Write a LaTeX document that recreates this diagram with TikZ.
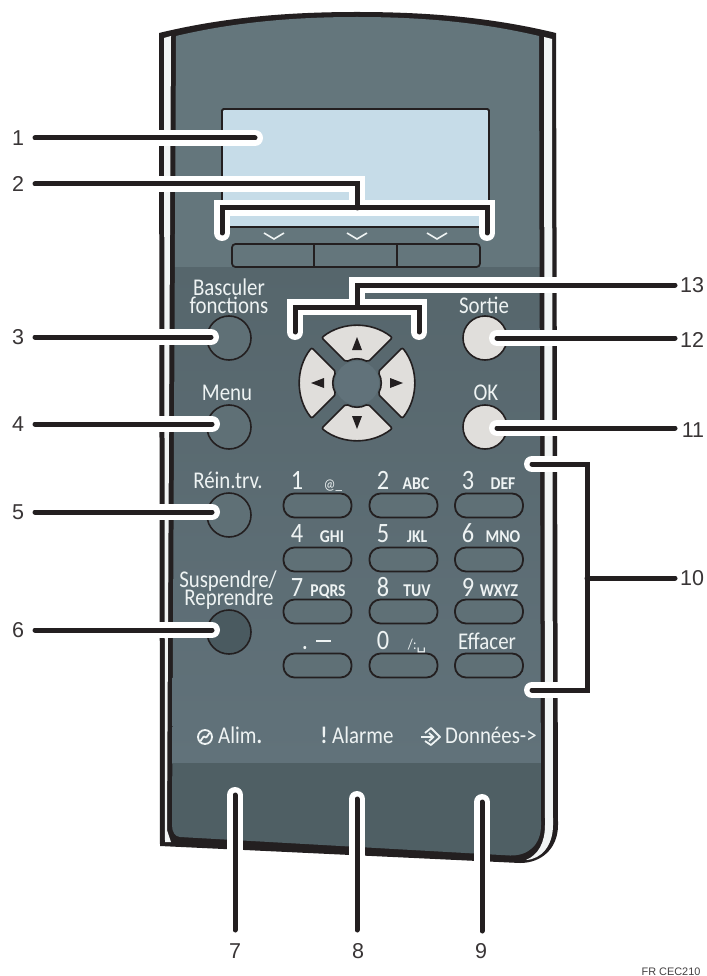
\documentclass[tikz,border=0pt]{standalone}
\usepackage{fontspec}
\setmainfont[FakeStretch=0.87]{Carlito}
\newfontfamily\lab{Liberation Sans}
\newfontfamily\dv{DejaVu Sans}
\definecolor{ink}{HTML}{231F20}
\definecolor{band}{HTML}{F1F4F4}
\definecolor{paneltop}{HTML}{64767C}
\definecolor{panelmidA}{HTML}{56666C}
\definecolor{panelmidB}{HTML}{61727A}
\definecolor{panelbot}{HTML}{4F5F64}
\definecolor{btnfill}{HTML}{5F7076}
\definecolor{btndark}{HTML}{4A5A60}
\definecolor{btnlight}{HTML}{E0DEDB}
\definecolor{lcd}{HTML}{C6DCE8}
\definecolor{txt}{HTML}{EEF3F3}
\tikzset{
  circbtn/.style={circle,draw=ink,line width=1.6pt,minimum size=44pt,inner sep=0pt,fill=btnfill},
  pillbtn/.style={rounded corners=11pt,draw=ink,line width=1.8pt,minimum width=68pt,minimum height=24pt,inner sep=0pt,fill=btnfill},
  softkey/.style={rounded corners=3.5pt,draw=ink,line width=1.8pt,fill=paneltop},
  halo/.style={draw=white,line width=16pt,line cap=round,line join=miter},
  ldr/.style={draw=ink,line width=5pt,line cap=round,line join=miter},
  num/.style={font=\lab\fontsize{21.5}{21.5}\selectfont,text=ink!90!white,inner sep=0pt,anchor=center},
  t/.style={font=\fontsize{24}{18}\selectfont,text=txt,inner sep=0pt,anchor=base},
  d/.style={font=\fontsize{28}{28}\selectfont,text=txt,inner sep=0pt,anchor=base},
  k/.style={font=\bfseries\fontsize{18}{18}\selectfont,text=txt,inner sep=0pt,anchor=base},
  sector/.style={draw=ink,line width=1.6pt,fill=btnlight,rounded corners=2pt},
  icon/.style={draw=txt,line width=1.8pt,line join=round}
}
\newcommand{\sectorpath}{(-35.4,-45.3) .. controls (-14.6,-61.6) and (14.6,-61.6) .. (35.4,-45.3) -- (11,-21) .. controls (4,-25) and (-4,-25) .. (-11,-21) -- cycle}
\newcommand{\panelpath}{(176,36) .. controls (235,22) and (295,17) .. (357,17) .. controls (420,17) and (480,22) .. (539,36) -- (541,825) .. controls (541,845) and (528,856) .. (510,855.5) -- (180,837) .. controls (175,836.5) and (172,832) .. (172,825) -- cycle}
\newcommand{\leaderline}[1]{\path[halo] #1; \path[ldr] #1;}
\begin{document}
\begin{tikzpicture}[x=1pt,y=-1pt]
\useasboundingbox (0,0) rectangle (706,976);
% casing
\fill[ink] (159,33) .. controls (225,17) and (290,12) .. (357,12) .. controls (425,12) and (490,17) .. (556,33) -- (558,825) .. controls (558,848) and (542,863) .. (520,863) -- (160,846) -- cycle;
\fill[band] (164,38) -- (171,36) -- (167,830) -- (171,842) -- (165,842) -- cycle;
\fill[band] (544,37) -- (552,39) -- (553,825) .. controls (553,845) and (542,859) .. (526,860) .. controls (538,855) and (545,843) .. (545,825) -- cycle;
\begin{scope}
  \clip \panelpath;
  \fill[paneltop] (150,0) rectangle (560,267);
  \shade[top color=panelmidA,bottom color=panelmidB] (150,267) rectangle (560,763);
  \fill[panelbot] (150,763) rectangle (560,870);
\end{scope}
% display
\node[draw=ink,line width=1.8pt,fill=lcd,rounded corners=1.5pt,minimum width=267pt,minimum height=118pt,inner sep=0pt] (lcdscreen) at (355.5,168) {};
\foreach \x in {274,357,437}{\draw[txt,line width=1.6pt] (\x-10,233) -- (\x,239) -- (\x+10,233);}
% soft keys
\draw[softkey] (232,244) rectangle (480,267);
\draw[ink,line width=1.8pt] (314,244) -- (314,267) (397,244) -- (397,267);
% round buttons
\node[circbtn] (bswitch) at (229,338) {};
\node[circbtn] (bmenu) at (229,427) {};
\node[circbtn] (breset) at (229,515) {};
\node[circbtn,fill=btndark] (bpause) at (229,632) {};
\node[circbtn,fill=btnlight] (bexit) at (485,338) {};
\node[circbtn,fill=btnlight] (bok) at (485,427) {};
% d-pad
\fill[panelmidB] (357,383) circle (22);
\foreach \a in {0,90,180,270}{
  \begin{scope}[shift={(357,383)},rotate=\a]
    \path[sector] \sectorpath;
    \fill[ink] (0,-46) -- (-5,-33) -- (5,-33) -- cycle;
  \end{scope}}
% numeric keys
\foreach \c/\x in {a/317.5,b/403.5,c/489}{
  \foreach \r/\y in {1/505.5,2/559.5,3/611.5,4/665.5}{
    \node[pillbtn] (k\c\r) at (\x,\y) {};}}
% button captions
\node[t] (tbasc) at (229,295) {Basculer};
\node[t] (tfonc) at (229,313) {fonctions};
\node[t] (tmenu) at (227,400) {Menu};
\node[t] (tsort) at (484,313) {Sortie};
\node[t] (tok) at (486,400) {OK};
\node[t] (trein) at (228,488) {Réin.trv.};
\node[t] (tsusp) at (228,587) {Suspendre/};
\node[t] (trepr) at (229,605) {Reprendre};
\node[d] (d1) at (297,489) {1};
\node[d] (d2) at (383,489) {2};
\node[d] (d3) at (468,489) {3};
\node[d] (d4) at (297,542) {4};
\node[d] (d5) at (383,542) {5};
\node[d] (d6) at (468,542) {6};
\node[d] (d7) at (297,596) {7};
\node[d] (d8) at (383,596) {8};
\node[d] (d9) at (468,596) {9};
\node[d] (d0) at (383,649) {0};
\node[k,font=\fontsize{15}{15}\selectfont] (k1) at (333,489) {@\_};
\node[k] (k2) at (416,489) {ABC};
\node[k] (k3) at (503,489) {DEF};
\node[k] (k4) at (332,542) {GHI};
\node[k] (k5) at (417,542) {JKL};
\node[k] (k6) at (503,542) {MNO};
\node[k] (k7) at (328,596) {PQRS};
\node[k] (k8) at (417,596) {TUV};
\node[k] (k9) at (499,596) {WXYZ};
\node[k,font=\bfseries\fontsize{22}{22}\selectfont] (kdot) at (305,649) {.};
\draw[txt,line width=1.8pt] (316,641) -- (331,641);
\node[k,font=\fontsize{15}{15}\selectfont] (kzero) at (417,649) {/:{\dv\fontsize{15}{15}\selectfont ␣}};
\node[t] (teff) at (487,649) {Effacer};
% status row
\draw[icon] (205,737) circle (7);
\draw[icon] (200.5,741) .. controls (203,739) and (203,735) .. (205,737) .. controls (207,739) and (207,735) .. (209.5,733);
\node[t,anchor=base west] (talim) at (218,743) {Alim{\bfseries.}};
\node[t,anchor=base,font=\bfseries\fontsize{24}{24}\selectfont] (texcl) at (324,743) {!};
\node[t,anchor=base west] (talar) at (332,743) {Alarme};
\draw[icon] (425,733) -- (431,728) -- (440,737) -- (431,745) -- (425,741);
\draw[icon] (421,737) -- (433,737) (429,733) -- (433.5,737) -- (429,741);
\node[t,anchor=base west] (tdata) at (445,743) {Données-{>}};
% callout numbers
\node[num] (n1) at (18,138) {1};
\node[num] (n2) at (18,184) {2};
\node[num] (n3) at (18,337) {3};
\node[num] (n4) at (18,424) {4};
\node[num] (n5) at (18,512) {5};
\node[num] (n6) at (18,630) {6};
\node[num] (n7) at (235,951) {7};
\node[num] (n8) at (358,951) {8};
\node[num] (n9) at (481,951) {9};
\node[num] (n10) at (692,578) {10};
\node[num] (n11) at (693,430) {11};
\node[num] (n12) at (692,340) {12};
\node[num] (n13) at (692,285) {13};
\node[inner sep=0pt,anchor=base,font=\lab\fontsize{10.9}{10.9}\selectfont,text=ink!85!white] (code) at (671,975) {FR CEC210};
% leader end points
\foreach \n/\x/\y in {s1/35/138,e1/255/138,s2/35/184,j2/357/184,m2/357/208,bl2/222/233,tl2/222/208,tr2/487/208,br2/487/233,
  s3/35/337,e3/211/337,s4/35/424,e4/212/424,s5/35/512,e5/212/512,s6/35/630,e6/212/630,
  s7/235/930,e7/235/795,s8/357/930,e8/357/799,s9/482/931,e9/482/802,
  s13/675/285,j13/357/285,m13/357/307,bl13/295/332,tl13/295/307,tr13/419/307,br13/419/332,
  s12/675/338,e12/497/338,s11/675/428,e11/497/428,
  s10/675/578,m10/587/578,a10/532/464,b10/587/464,c10/587/690,d10/532/690}
  {\coordinate (\n) at (\x,\y);}
% leaders
\leaderline{(s1) -- (e1)}
\leaderline{(s3) -- (e3)}
\leaderline{(s4) -- (e4)}
\leaderline{(s5) -- (e5)}
\leaderline{(s6) -- (e6)}
\leaderline{(s7) -- (e7)}
\leaderline{(s8) -- (e8)}
\leaderline{(s9) -- (e9)}
\leaderline{(s12) -- (e12)}
\leaderline{(s11) -- (e11)}
\path[halo] (s2) -- (j2) -- (m2) (bl2) -- (tl2) -- (tr2) -- (br2);
\path[ldr] (s2) -- (j2) -- (m2) (bl2) -- (tl2) -- (tr2) -- (br2);
\path[halo] (s13) -- (j13) -- (m13) (bl13) -- (tl13) -- (tr13) -- (br13);
\path[ldr] (s13) -- (j13) -- (m13) (bl13) -- (tl13) -- (tr13) -- (br13);
\path[halo] (a10) -- (b10) -- (c10) -- (d10);
\path[ldr] (a10) -- (b10) -- (c10) -- (d10) (s10) -- (m10);
\end{tikzpicture}
\end{document}
